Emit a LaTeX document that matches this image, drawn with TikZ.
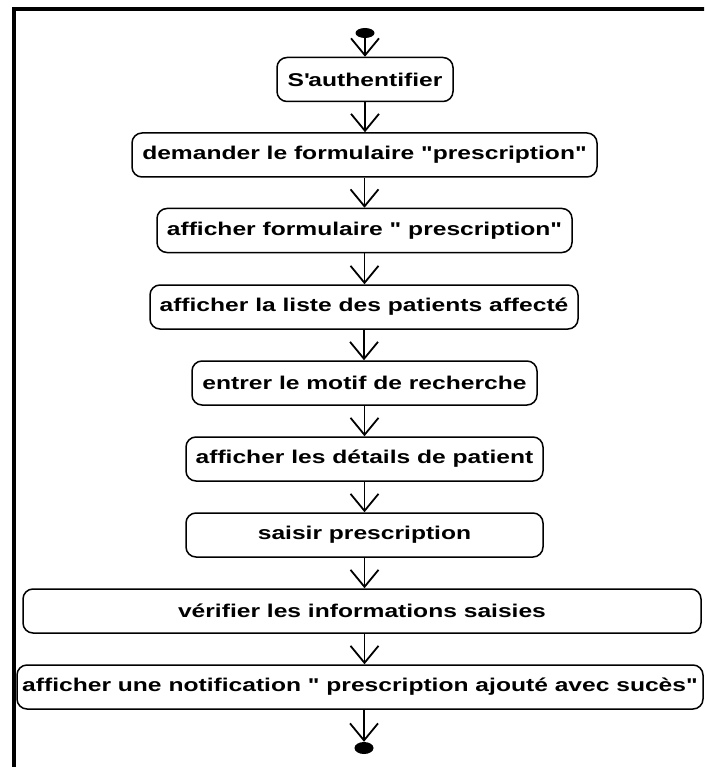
\documentclass[tikz,border=0pt]{standalone}
\usepackage{fontspec}
\newfontfamily\diagfont{Liberation Sans}[FakeStretch=1.33]
\usetikzlibrary{arrows.meta,shapes.geometric}

\tikzset{
  activity/.style={draw, line width=1.5pt, rounded corners=10pt, inner sep=0pt,
    minimum height=44pt, font=\diagfont\bfseries\fontsize{18.5}{20}\selectfont},
  flow/.style={line width=1.8pt,
    -{Straight Barb[length=17pt,width=28pt,line width=1.8pt]}},
  terminal/.style={ellipse, fill=black, inner sep=0pt},
  frameline/.style={line width=4pt, line join=miter}
}

\begin{document}
\begin{tikzpicture}[x=1pt, y=-1pt]
  \useasboundingbox (0,0) rectangle (704,767);
  \clip (0,0) rectangle (704,767);

  % outer frame (runs off the right and bottom edges)
  \draw[frameline] (14,780) -- (14,9.5) -- (720,9.5);

  % initial and final states
  \node[terminal, minimum width=19pt, minimum height=10pt] (start) at (365,33) {};
  \node[terminal, minimum width=19pt, minimum height=12pt] (stop) at (364,748) {};

  % activities
  \node[activity, minimum width=176pt] (b1) at (365,79.5) {S\textquotesingle authentifier};
  \node[activity, minimum width=465pt] (b2) at (364.5,155) {demander le formulaire "prescription"};
  \node[activity, minimum width=415pt] (b3) at (364.5,230.5) {afficher formulaire " prescription"};
  \node[activity, minimum width=428pt] (b4) at (364,307) {afficher la liste des patients affecté};
  \node[activity, minimum width=345pt] (b5) at (364.5,383) {entrer le motif de recherche};
  \node[activity, minimum width=357pt] (b6) at (364.5,459) {afficher les détails de patient};
  \node[activity, minimum width=357pt] (b7) at (364.5,535) {saisir prescription};
  \node[activity, minimum width=678pt] (b8) at (362,611) {vérifier les informations saisies};
  \node[activity, minimum width=686pt] (b9) at (360,687) {afficher une notification " prescription ajouté avec sucès"};

  % control flow
  \draw[flow] (start.south) -- (start.south |- b1.north);
  \draw[flow] (b1.south) -- (b1.south |- b2.north);
  \draw[flow] (b2.south) -- (b2.south |- b3.north);
  \draw[flow] (b3.south) -- (b3.south |- b4.north);
  \draw[flow] (b4.south) -- (b4.south |- b5.north);
  \draw[flow] (b5.south) -- (b5.south |- b6.north);
  \draw[flow] (b6.south) -- (b6.south |- b7.north);
  \draw[flow] (b7.south) -- (b7.south |- b8.north);
  \draw[flow] (b8.south -| b7.south) -- (b7.south |- b9.north);
  \draw[flow] (b9.south -| stop.north) -- (stop.north);
\end{tikzpicture}
\end{document}
